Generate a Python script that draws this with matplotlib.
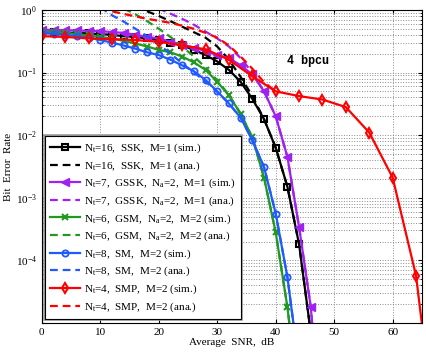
import numpy as np
import matplotlib.pyplot as plt
import matplotlib.patheffects as pe

plt.rcParams['font.family'] = 'Liberation Serif'
plt.rcParams['mathtext.fontset'] = 'custom'
plt.rcParams['mathtext.rm'] = 'Liberation Serif'
plt.rcParams['mathtext.it'] = 'Liberation Serif:italic'

# Average SNR (dB) grids
snr_2db = [0, 2, 4, 6, 8, 10, 12, 14, 16, 18, 20, 22, 24, 26, 28, 30, 32, 34, 36, 38, 40, 42, 44, 46, 48]
snr_red = [0, 4, 8, 12, 16, 20, 24, 28, 32, 36, 40, 44, 48, 52, 56, 60, 64, 68]

# Simulated BER
ber_ssk_sim = [0.44, 0.44, 0.43, 0.43, 0.42, 0.41, 0.40, 0.38, 0.37, 0.35, 0.33, 0.30, 0.27,
               0.23, 0.19, 0.15, 0.11, 0.071, 0.038, 0.018, 0.0063, 0.0015, 1.8e-4, 7e-6, 1e-8]
ber_gssk_sim = [0.48, 0.48, 0.47, 0.47, 0.46, 0.46, 0.44, 0.43, 0.40, 0.37, 0.35, 0.31, 0.28,
                0.25, 0.22, 0.19, 0.17, 0.13, 0.093, 0.05, 0.02, 0.0045, 3.4e-4, 1.8e-5, 1e-7]
ber_gsm_sim = [0.45, 0.44, 0.43, 0.41, 0.39, 0.37, 0.35, 0.32, 0.29, 0.26, 0.23, 0.21, 0.18,
               0.145, 0.11, 0.071, 0.043, 0.022, 0.0092, 0.0021, 2.8e-4, 1.8e-5, 5e-7]
ber_sm_sim = [0.43, 0.41, 0.40, 0.38, 0.36, 0.33, 0.30, 0.27, 0.24, 0.21, 0.19, 0.16, 0.13,
              0.105, 0.076, 0.05, 0.032, 0.019, 0.0083, 0.0031, 5.6e-4, 5.4e-5, 2e-6]
ber_smp_sim = [0.38, 0.37, 0.35, 0.34, 0.33, 0.31, 0.27, 0.235, 0.16, 0.087, 0.05, 0.042,
               0.037, 0.028, 0.011, 0.0021, 5.7e-5, 5e-8]

# Analytical BER
snr_ssk_ana = [16, 18, 20, 22, 24, 26, 28, 30, 32, 34, 36, 38, 40, 42, 44, 46, 48]
ber_ssk_ana = [1.15, 0.95, 0.8, 0.66, 0.54, 0.44, 0.36, 0.26, 0.16, 0.085, 0.042, 0.018,
               0.0063, 0.0015, 1.8e-4, 7e-6, 1e-8]
snr_gssk_ana = [18, 20, 22, 24, 26, 28, 30, 32, 34, 36, 38, 40, 42, 44, 46, 48]
ber_gssk_ana = [1.3, 1.05, 0.87, 0.72, 0.58, 0.45, 0.35, 0.26, 0.17, 0.1, 0.05, 0.02,
                0.0045, 3.4e-4, 1.8e-5, 1e-7]
snr_gsm_ana = [14, 16, 18, 20, 22, 24, 26, 28, 30, 32, 34, 36, 38, 40, 42, 44]
ber_gsm_ana = [1.05, 0.85, 0.66, 0.5, 0.37, 0.26, 0.18, 0.12, 0.075, 0.044, 0.022, 0.0092,
               0.0021, 2.8e-4, 1.8e-5, 5e-7]
snr_sm_ana = [10, 12, 14, 16, 18, 20, 22, 24, 26, 28, 30, 32, 34, 36, 38, 40, 42, 44]
ber_sm_ana = [1.1, 0.82, 0.65, 0.5, 0.38, 0.28, 0.2, 0.14, 0.1, 0.072, 0.049, 0.032, 0.019,
              0.0083, 0.0031, 5.6e-4, 5.4e-5, 2e-6]
snr_smp_ana = [10, 12, 14, 16, 18, 20, 22, 24, 26, 28, 30, 32, 34, 36, 38, 40]
ber_smp_ana = [1.1, 0.95, 0.86, 0.79, 0.72, 0.67, 0.62, 0.56, 0.5, 0.43, 0.36, 0.27, 0.18,
               0.115, 0.07, 0.05]

purple = (0.63, 0.13, 0.94)
green = (0.13, 0.6, 0.13)
blue = (0.12, 0.35, 1.0)
red = (1.0, 0.0, 0.0)

fig = plt.figure(figsize=(4.27, 3.53), dpi=100)
ax = fig.add_axes([0.098, 0.085, 0.89, 0.887])

lw = 1.6
dash = (0, (3.5, 2.2))
ax.semilogy(snr_2db[:len(ber_ssk_sim)], ber_ssk_sim, '-', color='k', lw=lw, marker='s', ms=4,
            mfc='none', mew=1.5, label=r'N$_\mathrm{t}$=16,  SSK,  M=1 (sim.)')
ax.semilogy(snr_ssk_ana, ber_ssk_ana, color='k', lw=lw, ls=dash,
            label=r'N$_\mathrm{t}$=16,  SSK,  M=1 (ana.)')
ax.semilogy(snr_2db[:len(ber_gssk_sim)], ber_gssk_sim, '-', color=purple, lw=lw, marker='<', ms=5.5,
            label=r'N$_\mathrm{t}$=7,  GSSK,  N$_\mathrm{a}$=2,  M=1 (sim.)')
ax.semilogy(snr_gssk_ana, ber_gssk_ana, color=purple, lw=lw, ls=dash,
            label=r'N$_\mathrm{t}$=7,  GSSK,  N$_\mathrm{a}$=2,  M=1 (ana.)')
ax.semilogy(snr_2db[:len(ber_gsm_sim)], ber_gsm_sim, '-', color=green, lw=lw, marker='x', ms=4.5,
            mew=1.5, label=r'N$_\mathrm{t}$=6,  GSM,  N$_\mathrm{a}$=2,  M=2 (sim.)')
ax.semilogy(snr_gsm_ana, ber_gsm_ana, color=green, lw=lw, ls=dash,
            label=r'N$_\mathrm{t}$=6,  GSM,  N$_\mathrm{a}$=2,  M=2 (ana.)')
ax.semilogy(snr_2db[:len(ber_sm_sim)], ber_sm_sim, '-', color=blue, lw=lw, marker='o', ms=4.5,
            mfc='none', mew=1.3, label=r'N$_\mathrm{t}$=8,  SM,  M=2 (sim.)')
ax.semilogy(snr_sm_ana, ber_sm_ana, color=blue, lw=lw, ls=dash,
            label=r'N$_\mathrm{t}$=8,  SM,  M=2 (ana.)')
ax.semilogy(snr_red, ber_smp_sim, '-', color=red, lw=lw, marker='d', ms=5.5,
            mfc='none', mew=1.5, label=r'N$_\mathrm{t}$=4,  SMP,  M=2 (sim.)')
ax.semilogy(snr_smp_ana, ber_smp_ana, color=red, lw=lw, ls=dash,
            label=r'N$_\mathrm{t}$=4,  SMP,  M=2 (ana.)')

ax.set_xlim(0, 65)
ax.set_ylim(1e-5, 1)
ax.set_xticks([0, 10, 20, 30, 40, 50, 60])
ax.set_yticks([1e0, 1e-1, 1e-2, 1e-3, 1e-4, 1e-5])
ax.set_yticklabels([r'$10^{0}$', r'$10^{-1}$', r'$10^{-2}$', r'$10^{-3}$', r'$10^{-4}$', ''])
ax.tick_params(which='both', direction='in', top=True, right=True, labelsize=8)
ax.tick_params(which='major', length=3)
ax.tick_params(which='minor', length=1.5)
ax.grid(True, which='major', ls=':', color='0.55', lw=0.7)
ax.grid(True, which='minor', axis='y', ls=':', color='0.55', lw=0.7)
for s in ax.spines.values():
    s.set_linewidth(0.8)

ax.set_xlabel('Average  SNR,  dB', fontsize=8, labelpad=1)
ax.set_ylabel('Bit  Error  Rate', fontsize=8, labelpad=2)

ax.text(45.5, 0.15, '4 bpcu', family='Liberation Mono', fontweight='bold', fontsize=8.5,
        ha='center', va='center')

leg = ax.legend(loc='lower left', bbox_to_anchor=(0.008, 0.012), fontsize=8, handlelength=2.7,
                handletextpad=0.3, labelspacing=0.37, borderpad=0.5, fancybox=False,
                framealpha=1, edgecolor='k', borderaxespad=0)
leg.get_frame().set_linewidth(0.8)
leg.get_frame().set_path_effects([pe.withStroke(linewidth=2.6, foreground='0.6')])

fig.savefig('out.png', dpi=100)
